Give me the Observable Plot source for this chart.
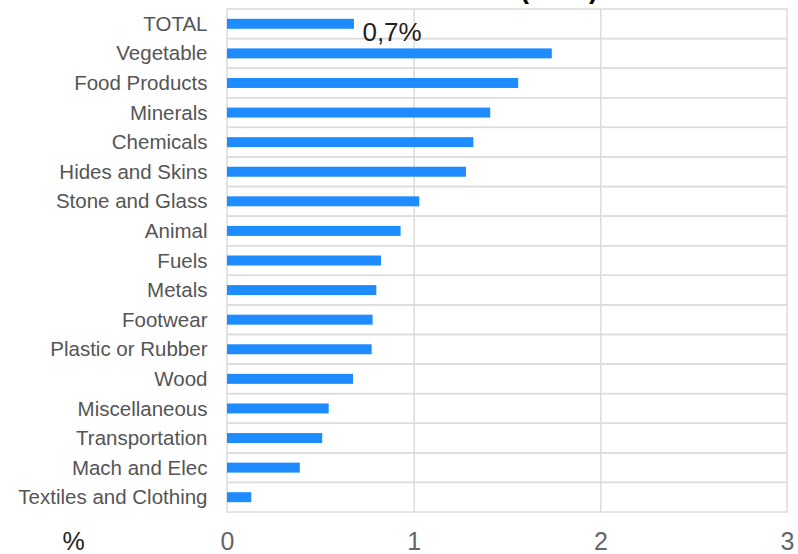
<!DOCTYPE html>
<html>
<head>
<meta charset="utf-8">
<script src="https://cdn.jsdelivr.net/npm/d3@7"></script>
<script src="https://cdn.jsdelivr.net/npm/@observablehq/plot@0.6"></script>
<style>
  html, body { margin: 0; padding: 0; background: #fff; overflow: hidden; }
  #wrap { position: relative; width: 798px; height: 554px; }
  #title { position: absolute; left: 0; width: 798px; top: -26px;
           font: bold 27px "Liberation Sans", Arial, sans-serif; color: #000; white-space: nowrap; line-height: 30px; }
  #title span { position: absolute; right: 200px; }
  #chart { position: absolute; left: 0; top: 0; }
</style>
</head>
<body>
<div id="wrap">
  <div id="chart"></div>
  <div id="title"><span>TARIFF RATE (2021)</span></div>
</div>
<script>
const categories = ["TOTAL", "Vegetable", "Food Products", "Minerals", "Chemicals", "Hides and Skins",
  "Stone and Glass", "Animal", "Fuels", "Metals", "Footwear", "Plastic or Rubber", "Wood",
  "Miscellaneous", "Transportation", "Mach and Elec", "Textiles and Clothing"];
const values = [0.68, 1.74, 1.56, 1.41, 1.32, 1.28, 1.03, 0.93, 0.825, 0.80, 0.78, 0.775, 0.675,
  0.545, 0.51, 0.39, 0.13];
const xTicks = [0, 1, 2, 3];
const totalLabel = "0,7%";
const axisUnit = "%";

const data = categories.map((c, i) => ({category: c, value: values[i]}));

const plot = Plot.plot({
  width: 798,
  height: 554,
  marginLeft: 227,
  marginRight: 11,
  marginTop: 9,
  marginBottom: 42,
  style: {fontFamily: "'Liberation Sans', Arial, sans-serif", background: "transparent"},
  x: {domain: [0, 3], ticks: xTicks},
  y: {domain: categories, padding: 0, round: false},
  marks: [
    Plot.barX(categories, {x1: xTicks[0], x2: xTicks[xTicks.length - 1], y: d => d, fill: "none", stroke: "#dcdcdc", strokeWidth: 1.5}),
    Plot.ruleX(xTicks.slice(1, -1), {stroke: "#dcdcdc", strokeWidth: 1.5}),
    Plot.barX(data, {x: "value", y: "category", fill: "#1E8CFF", insetTop: 9.8, insetBottom: 9.8}),
    Plot.text(data.filter(d => d.category === "TOTAL"), {x: "value", y: "category", text: () => totalLabel,
      textAnchor: "start", dx: 8, dy: 8, fontSize: 26, fill: "#222"}),
    Plot.text([axisUnit], {text: d => d, frameAnchor: "bottom-left", textAnchor: "middle", dx: -154, dy: 29, fontSize: 25, fill: "#222", lineAnchor: "middle"}),
    Plot.axisY({tickSize: 0, tickPadding: 20, fontSize: 20.5, color: "#555", label: null}),
    Plot.axisX({ticks: xTicks, tickSize: 0, tickPadding: 20, fontSize: 25, color: "#666", label: null, tickFormat: d => String(d)})
  ]
});
document.getElementById("chart").appendChild(plot);
</script>
</body>
</html>
